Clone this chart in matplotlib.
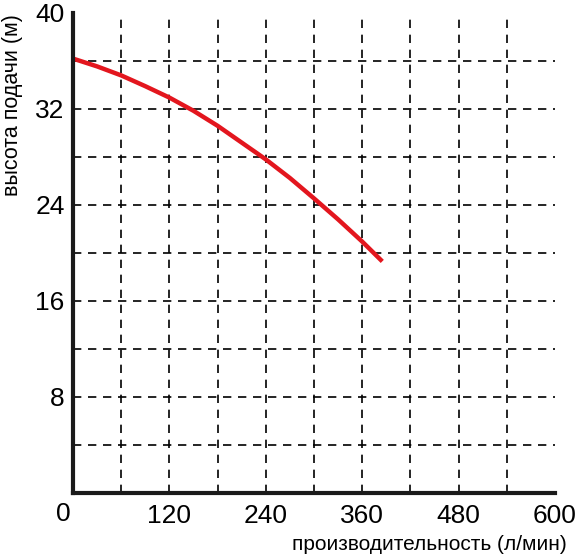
import matplotlib
matplotlib.use("Agg")
import matplotlib.pyplot as plt

# pump curve
flow = [0, 30, 60, 90, 120, 150, 180, 210, 240, 270, 300, 330, 360, 385]
head = [36.2, 35.55, 34.8, 33.9, 32.95, 31.85, 30.6, 29.2, 27.8, 26.25, 24.55, 22.8, 20.95, 19.3]

x_ticks = [0, 120, 240, 360, 480, 600]
y_ticks = [8, 16, 24, 32, 40]
x_grid = [60, 120, 180, 240, 300, 360, 420, 480, 540]
y_grid = [4, 8, 12, 16, 20, 24, 28, 32, 36]

plt.rcParams['font.family'] = ['Liberation Sans', 'DejaVu Sans']

W, H = 579, 557
fig = plt.figure(figsize=(W / 100, H / 100), dpi=100)
ax = fig.add_axes([73 / W, (H - 493) / H, 482 / W, 480 / H])

ax.set_xlim(0, 600)
ax.set_ylim(0, 40)

# dashed grid, drawn by hand so the lines stop at the frame
for gx in x_grid:
    ax.axvline(gx, color='black', lw=1.2, ls=(0, (5, 4)), zorder=1)
for gy in y_grid:
    ax.axhline(gy, color='black', lw=1.2, ls=(0, (5, 4)), zorder=1)

ax.plot(flow, head, color='#e3161e', lw=3.2, solid_capstyle='butt',
        solid_joinstyle='round', zorder=3)

for s in ['top', 'right']:
    ax.spines[s].set_visible(False)
for s in ['left', 'bottom']:
    ax.spines[s].set_linewidth(3)
    ax.spines[s].set_color('#1a1a1a')
    ax.spines[s].set_zorder(4)

ax.set_xticks(x_ticks)
ax.set_yticks(y_ticks)
ax.tick_params(length=0, labelsize=19, pad=8)
ax.tick_params(axis='y', pad=6)

# "0" sits in the corner, shared by both axes
ax.set_xticklabels([''] + [str(v) for v in x_ticks[1:]])
fig.text(63 / W, 1 - 514 / H, '0', fontsize=19, ha='center', va='center')

fig.text(13 / W, 1 - 105 / H, 'высота подачи (м)', rotation=90,
         fontsize=15.5, ha='center', va='center')
fig.text(429 / W, 1 - 545 / H, 'производительность (л/мин)',
         fontsize=15, ha='center', va='center')

fig.savefig('out.png', dpi=100)
